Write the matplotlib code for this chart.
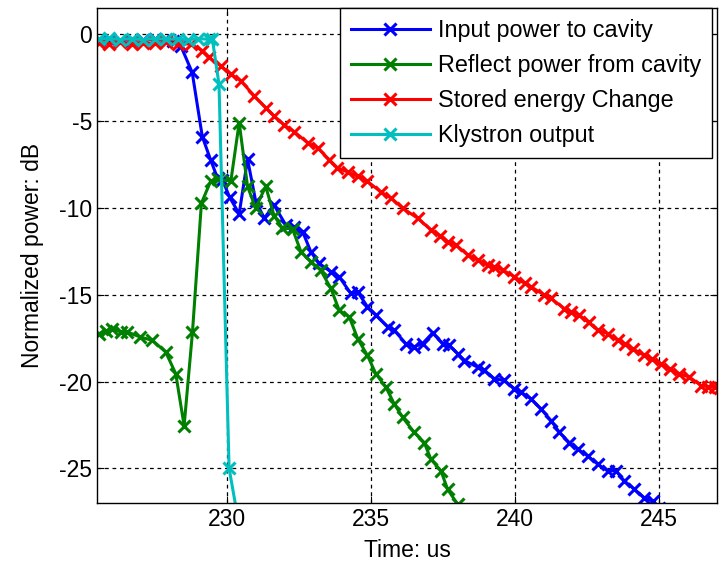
import matplotlib
matplotlib.use("Agg")
import matplotlib.pyplot as plt

# ---- data ----
t_input = [225.55, 225.9, 226.3, 226.7, 227.1, 227.5, 227.9, 228.15, 228.4, 228.8,
           229.15, 229.44, 229.68, 229.85, 230.1, 230.43, 230.72, 231.0, 231.3, 231.64,
           232.05, 232.34, 232.63, 232.92, 233.2, 233.61, 233.9, 234.3, 234.54, 234.88,
           235.17, 235.58, 235.81, 236.21, 236.5, 236.79, 237.14, 237.49, 237.72, 238.01,
           238.24, 238.7, 238.94, 239.28, 239.63, 239.98, 240.21, 240.56, 240.9, 241.25,
           241.54, 241.88, 242.17, 242.52, 242.87, 243.21, 243.5, 243.79, 244.14, 244.48,
           244.77, 245.0]
p_input = [-0.35, -0.3, -0.38, -0.32, -0.36, -0.3, -0.35, -0.4, -0.67, -2.21,
           -5.9, -7.25, -8.3, -8.4, -9.4, -10.35, -7.2, -9.6, -10.6, -9.85,
           -11.0, -11.08, -11.37, -12.55, -13.2, -13.68, -13.97, -14.93, -14.84, -15.7,
           -16.18, -16.86, -17.05, -17.82, -18.0, -17.82, -17.2, -17.82, -17.92, -18.4,
           -18.79, -19.17, -19.36, -19.84, -19.94, -20.42, -20.62, -21.0, -21.58, -22.25,
           -22.93, -23.51, -23.89, -24.28, -24.76, -25.14, -25.14, -25.72, -26.2, -26.69,
           -26.88, -27.3]

t_reflect = [225.57, 225.8, 226.03, 226.32, 226.55, 227.0, 227.42, 227.88, 228.23, 228.52,
             228.81, 229.12, 229.44, 229.68, 230.14, 230.43, 230.72, 231.0, 231.35, 231.64,
             231.93, 232.28, 232.57, 232.92, 233.26, 233.61, 233.9, 234.25, 234.54, 234.88,
             235.17, 235.52, 235.81, 236.1, 236.5, 236.85, 237.08, 237.43, 237.66, 238.01]
p_reflect = [-17.24, -17.09, -16.96, -17.15, -17.15, -17.44, -17.63, -18.3, -19.55, -22.54,
             -17.15, -9.73, -8.48, -8.34, -8.48, -5.1, -8.77, -10.02, -8.77, -10.45,
             -11.17, -11.22, -12.52, -13.1, -13.6, -14.64, -15.9, -16.28, -17.53, -18.5,
             -19.55, -20.33, -21.29, -22.06, -22.93, -23.51, -24.47, -25.14, -26.2, -27.07]

t_stored = [225.55, 225.9, 226.3, 226.7, 227.1, 227.5, 227.9, 228.3, 228.75, 229.15,
            229.38, 229.79, 230.14, 230.49, 230.95, 231.35, 231.64, 232.0, 232.34, 232.8,
            233.15, 233.55, 233.84, 234.2, 234.54, 234.88, 235.35, 235.7, 236.1, 236.62,
            237.08, 237.4, 237.66, 237.95, 238.36, 238.7, 239.05, 239.28, 239.57, 239.98,
            240.33, 240.56, 241.02, 241.25, 241.71, 241.94, 242.23, 242.55, 242.87, 243.21,
            243.56, 243.8, 244.08, 244.48, 244.75, 245.07, 245.36, 245.7, 246.05, 246.46,
            246.7, 246.92, 247.1]
p_stored = [-0.5, -0.55, -0.48, -0.56, -0.5, -0.54, -0.48, -0.55, -0.58, -0.96,
            -1.35, -1.83, -2.31, -2.7, -3.56, -4.24, -4.72, -5.25, -5.62, -6.26,
            -6.55, -7.23, -7.7, -7.95, -8.19, -8.48, -9.1, -9.44, -10.02, -10.6,
            -11.27, -11.6, -11.95, -12.14, -12.72, -13.0, -13.3, -13.39, -13.58, -13.97,
            -14.35, -14.55, -15.03, -15.22, -15.8, -16.0, -16.18, -16.6, -17.05, -17.24,
            -17.63, -17.85, -18.11, -18.5, -18.7, -18.98, -19.27, -19.55, -19.75, -20.23,
            -20.3, -20.33, -20.4]

t_kly = [225.55, 225.9, 226.3, 226.7, 227.1, 227.5, 227.9, 228.3, 228.65, 229.0,
         229.37, 229.5, 229.73, 230.08, 230.4]
p_kly = [-0.3, -0.25, -0.32, -0.27, -0.33, -0.26, -0.31, -0.28, -0.33, -0.27,
         -0.3, -0.3, -2.89, -25.0, -28.0]

labels = ["Input power to cavity", "Reflect power from cavity",
          "Stored energy Change", "Klystron output"]
colors = ["#0000ff", "#008000", "#ff0000", "#00bfbf"]

xticks = [230, 235, 240, 245]
yticks = [0, -5, -10, -15, -20, -25]

# ---- figure ----
plt.rcParams['font.family'] = ['Liberation Sans', 'DejaVu Sans']
plt.rcParams['axes.unicode_minus'] = False
fig = plt.figure(figsize=(7.19, 5.66), dpi=100)
ax = fig.add_axes([0.135, 0.111, 0.862, 0.875])

series = [(t_input, p_input), (t_reflect, p_reflect), (t_stored, p_stored), (t_kly, p_kly)]
for (t, p), lab, c in zip(series, labels, colors):
    ax.plot(t, p, color=c, lw=2.2, marker='x', ms=8, mew=2.2, label=lab)

ax.set_xlim(225.5, 247)
ax.set_ylim(-27, 1.5)
ax.set_xticks(xticks)
ax.set_yticks(yticks)
ax.grid(True, color='black', linestyle=(0, (3, 3)), linewidth=0.9)
ax.tick_params(direction='in', labelsize=16.5, length=5, top=True, right=True)
for s in ax.spines.values():
    s.set_linewidth(1.0)
ax.set_xlabel("Time: us", fontsize=16.5, labelpad=6)
ax.set_ylabel("Normalized power: dB", fontsize=16.5, labelpad=11)

leg = ax.legend(loc='upper right', bbox_to_anchor=(0.992, 0.999), fontsize=16.8,
                frameon=True, fancybox=False, edgecolor='black', framealpha=1,
                borderaxespad=0, handlelength=3.4, handletextpad=0.35,
                labelspacing=0.52, borderpad=0.45)
leg.get_frame().set_linewidth(1.0)

fig.savefig("out.png", dpi=100)
